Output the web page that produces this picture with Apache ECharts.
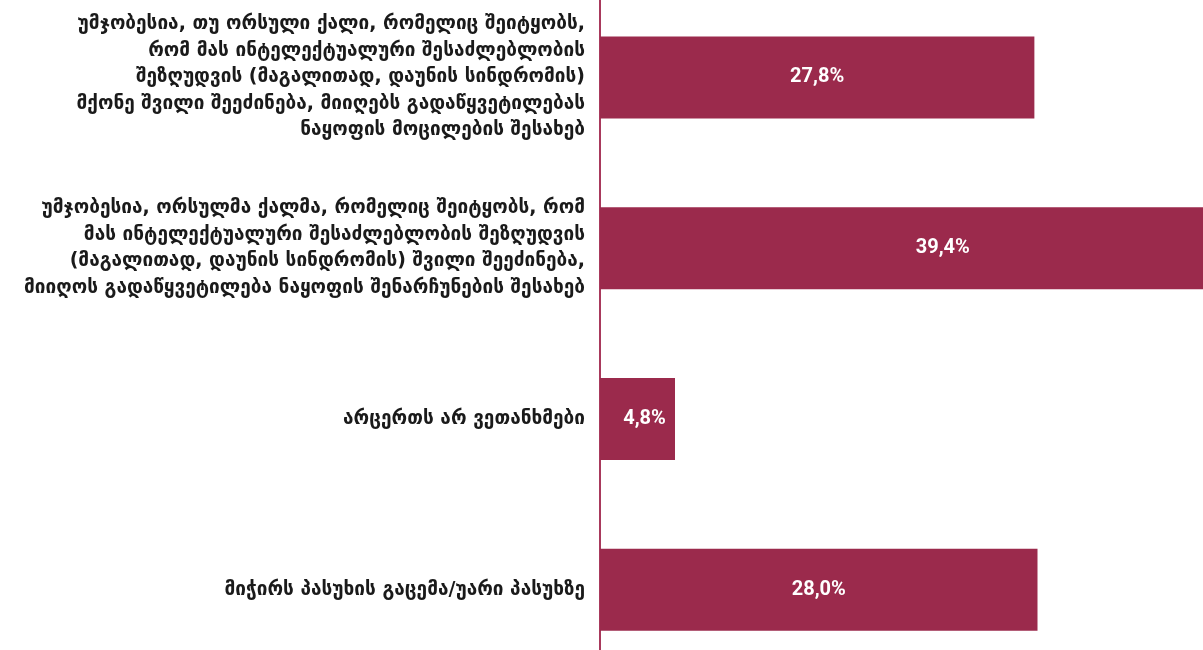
<!DOCTYPE html>
<html>
<head>
<meta charset="utf-8">
<script src="https://cdn.jsdelivr.net/npm/echarts@6/dist/echarts.min.js"></script>
<style>
  html, body { margin: 0; padding: 0; background: #fff; }
  #chart { width: 1203px; height: 650px; }
</style>
</head>
<body>
<div id="chart"></div>
<script>
// categories, top to bottom
const categories = [
    'უმჯობესია, თუ ორსული ქალი, რომელიც შეიტყობს,\nრომ მას ინტელექტუალური შესაძლებლობის\nშეზღუდვის (მაგალითად, დაუნის სინდრომის)\nმქონე შვილი შეეძინება, მიიღებს გადაწყვეტილებას\nნაყოფის მოცილების შესახებ',
    'უმჯობესია, ორსულმა ქალმა, რომელიც შეიტყობს, რომ\nმას ინტელექტუალური შესაძლებლობის შეზღუდვის\n(მაგალითად, დაუნის სინდრომის) შვილი შეეძინება,\nმიიღოს გადაწყვეტილება ნაყოფის შენარჩუნების შესახებ',
    'არცერთს არ ვეთანხმები',
    'მიჭირს პასუხის გაცემა/უარი პასუხზე'
];
const values = [27.8, 39.4, 4.8, 28.0];

const barColor = '#9b2a4c';

const chart = echarts.init(document.getElementById('chart'));
chart.setOption({
    animation: false,
    grid: {
        left: 600,
        top: -8,
        width: 625,
        height: 683,
        outerBoundsMode: 'none',
        containLabel: false
    },
    xAxis: {
        type: 'value',
        min: 0,
        max: 40,
        show: false
    },
    yAxis: {
        type: 'category',
        inverse: true,
        data: categories,
        axisLine: { show: true, lineStyle: { color: '#a8395c', width: 2 } },
        axisTick: { show: false },
        axisLabel: {
            margin: 15,
            color: '#1a1a1a',
            fontFamily: 'DejaVu Sans',
            fontWeight: 'bold',
            fontSize: 19,
            lineHeight: 26.5,
            align: 'right'
        }
    },
    series: [{
        type: 'bar',
        barWidth: 82,
        clip: false,
        itemStyle: { color: barColor },
        data: values.map((v, i) => {
            if (i === 1) return { value: v, label: { offset: [35, 0] } };
            if (i === 2) return { value: v, label: { offset: [7, 0] } };
            return v;
        }),
        label: {
            show: true,
            position: 'inside',
            color: '#fff',
            fontFamily: 'Roboto',
            fontWeight: 'bold',
            fontSize: 20,
            formatter: p => p.value.toFixed(1).replace('.', ',') + '%'
        }
    }]
});
</script>
</body>
</html>
